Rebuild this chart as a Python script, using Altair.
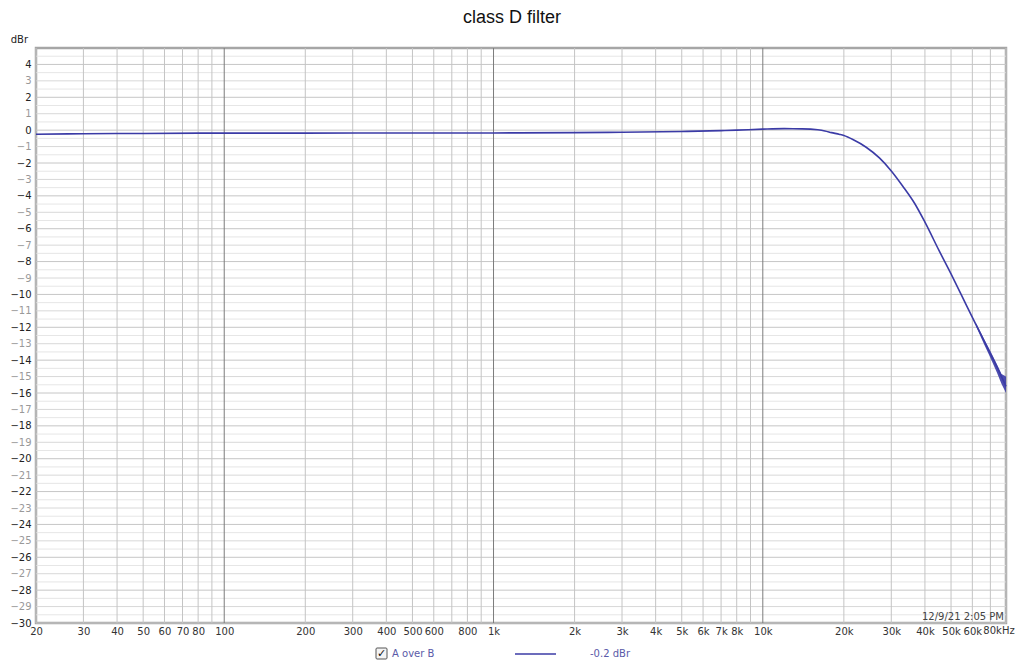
import altair as alt
import pandas as pd

# ---- data ----
freq = [20, 30, 50, 100, 200, 500, 1000, 2000, 3000, 5000, 7000, 8000, 10000,
        12000, 14000, 16000, 17000, 18000, 19300, 20000, 21600, 24200, 27100, 30000,
        33100, 36600, 40000, 45200, 50000, 54900, 60000, 64600, 69000, 75000, 80000]
dbr = [-0.25, -0.22, -0.2, -0.18, -0.18, -0.17, -0.17, -0.15, -0.13, -0.08, -0.03, 0.0, 0.06,
       0.09, 0.08, 0.02, -0.05, -0.15, -0.26, -0.33, -0.57, -1.04, -1.69, -2.48,
       -3.41, -4.45, -5.6, -7.35, -8.75, -10.1, -11.4, -12.45, -13.4, -14.6, -15.6]

band_freq = [62000, 66000, 70000, 74000, 77000, 80000]
band_lo = [-11.95, -12.95, -13.85, -14.75, -15.45, -16.0]
band_hi = [-11.75, -12.65, -13.45, -14.25, -14.85, -15.0]

x_ticks = [20, 30, 40, 50, 60, 70, 80, 100, 200, 300, 400, 500, 600, 800,
           1000, 2000, 3000, 4000, 5000, 6000, 7000, 8000, 10000,
           20000, 30000, 40000, 50000, 60000]
last_tick_label = "80kHz"
v_grid = ([m for m in range(20, 100, 10)] + [m * 100 for m in range(1, 10)] +
          [m * 1000 for m in range(1, 10)] + [m * 10000 for m in range(1, 9)])
decades = [100, 1000, 10000]
y_ticks = list(range(-30, 5))
h_grid = [v / 2 for v in range(-60, 10)]

title_text = "class D filter"
unit_text = "dBr"
stamp_text = "12/9/21 2:05 PM"
legend_name = "A over B"
legend_value = "-0.2 dBr"

W, H = 970, 575
FONT = "DejaVu Sans"
CURVE = "#3b3ba6"

xs = alt.Scale(type="log", domain=[20, 80000], nice=False)
ys = alt.Scale(domain=[-30, 5], nice=False, zero=False)

x_axis = alt.Axis(values=x_ticks, grid=False, ticks=False, domain=False,
                  labelOverlap=False, labelFlush=False, labelBound=False,
                  labelFont=FONT, labelFontSize=10, labelColor="#333333",
                  labelPadding=3,
                  labelExpr="datum.value >= 1000 ? (datum.value/1000) + 'k' : datum.value")
y_axis = alt.Axis(values=y_ticks, grid=False, ticks=False, domain=False,
                  labelOverlap=False, labelFlush=False, labelBound=False,
                  labelFont=FONT, labelFontSize=10, labelPadding=5,
                  labelColor=alt.condition("datum.value % 2 == 0",
                                           alt.value("#222222"), alt.value("#999999")))

curve_df = pd.DataFrame({"f": freq, "db": dbr})
band_df = pd.DataFrame({"f": band_freq, "lo": band_lo, "hi": band_hi})

vg = pd.DataFrame({"f": v_grid})
vg["kind"] = ["major" if f in decades else "minor" for f in v_grid]

hg = pd.DataFrame({"y": h_grid})
hg["kind"] = ["even" if (v == int(v) and int(v) % 2 == 0) else ("odd" if v == int(v) else "half")
              for v in h_grid]

XA = dict(scale=xs, title=None, axis=x_axis)
YA = dict(scale=ys, title=None, axis=y_axis)

hgrid = alt.Chart(hg).mark_rule(strokeWidth=1).encode(
    y=alt.Y("y:Q", **YA),
    color=alt.Color("kind:N", scale=alt.Scale(domain=["even", "odd", "half"],
                                              range=["#c6c6c6", "#d8d8d8", "#e6e6e6"]),
                    legend=None),
)

vgrid = alt.Chart(vg).mark_rule(strokeWidth=1).encode(
    x=alt.X("f:Q", **XA),
    stroke=alt.Stroke("kind:N", scale=alt.Scale(domain=["major", "minor"],
                                                range=["#7c7c7c", "#c4c4c4"]),
                      legend=None),
)

band = alt.Chart(band_df).mark_area(color=CURVE, opacity=0.9).encode(
    x=alt.X("f:Q", **XA),
    y=alt.Y("lo:Q", **YA),
    y2="hi:Q",
)

curve = alt.Chart(curve_df).mark_line(color=CURVE, strokeWidth=1.6, interpolate="monotone").encode(
    x=alt.X("f:Q", **XA),
    y=alt.Y("db:Q", **YA),
)

def txt(text, x, y, size=10, color="#333333", align="left", font=FONT, baseline="middle"):
    return alt.Chart(pd.DataFrame({"t": [text]})).mark_text(
        align=align, baseline=baseline, fontSize=size, font=font, color=color
    ).encode(text="t:N", x=alt.value(x), y=alt.value(y))

title = txt(title_text, W / 2 - 9, -30, size=18, color="#111111", align="center",
            font="Liberation Sans")
unit = txt(unit_text, -8, -8, size=10, color="#222222", align="right")
stamp = txt(stamp_text, W - 2, H - 6, size=10, color="#444444", align="right")
last_label = txt(last_tick_label, W - 7, H + 3, size=10, color="#333333", align="center",
                 baseline="top")

# legend
box = alt.Chart(pd.DataFrame({"a": [0]})).mark_rect(
    fill="#f4f4f4", stroke="#555555", strokeWidth=1, cornerRadius=1
).encode(x=alt.value(340), x2=alt.value(351), y=alt.value(600), y2=alt.value(611))
check = txt("✓", 345.5, 605.5, size=11, color="#111111", align="center", font="DejaVu Sans")
leg_name = txt(legend_name, 356, 606, size=10, color="#5a5aa8")
leg_line = alt.Chart(pd.DataFrame({"a": [0]})).mark_rule(color=CURVE, strokeWidth=1.6).encode(
    x=alt.value(479), x2=alt.value(520), y=alt.value(606))
leg_val = txt(legend_value, 554, 606, size=10, color="#5a5aa8")

chart = alt.layer(
    hgrid, vgrid, band, curve, title, unit, stamp, last_label,
    box, check, leg_name, leg_line, leg_val
).resolve_scale(color="independent").properties(
    width=W, height=H,
    autosize=alt.AutoSizeParams(type="none"),
    padding={"left": 28, "top": 40, "right": 10, "bottom": 38},
    background="white",
).configure_view(stroke="#a6a6a6", strokeWidth=2.5)

chart.save("out.html", embed_options={"renderer": "svg", "actions": False})
